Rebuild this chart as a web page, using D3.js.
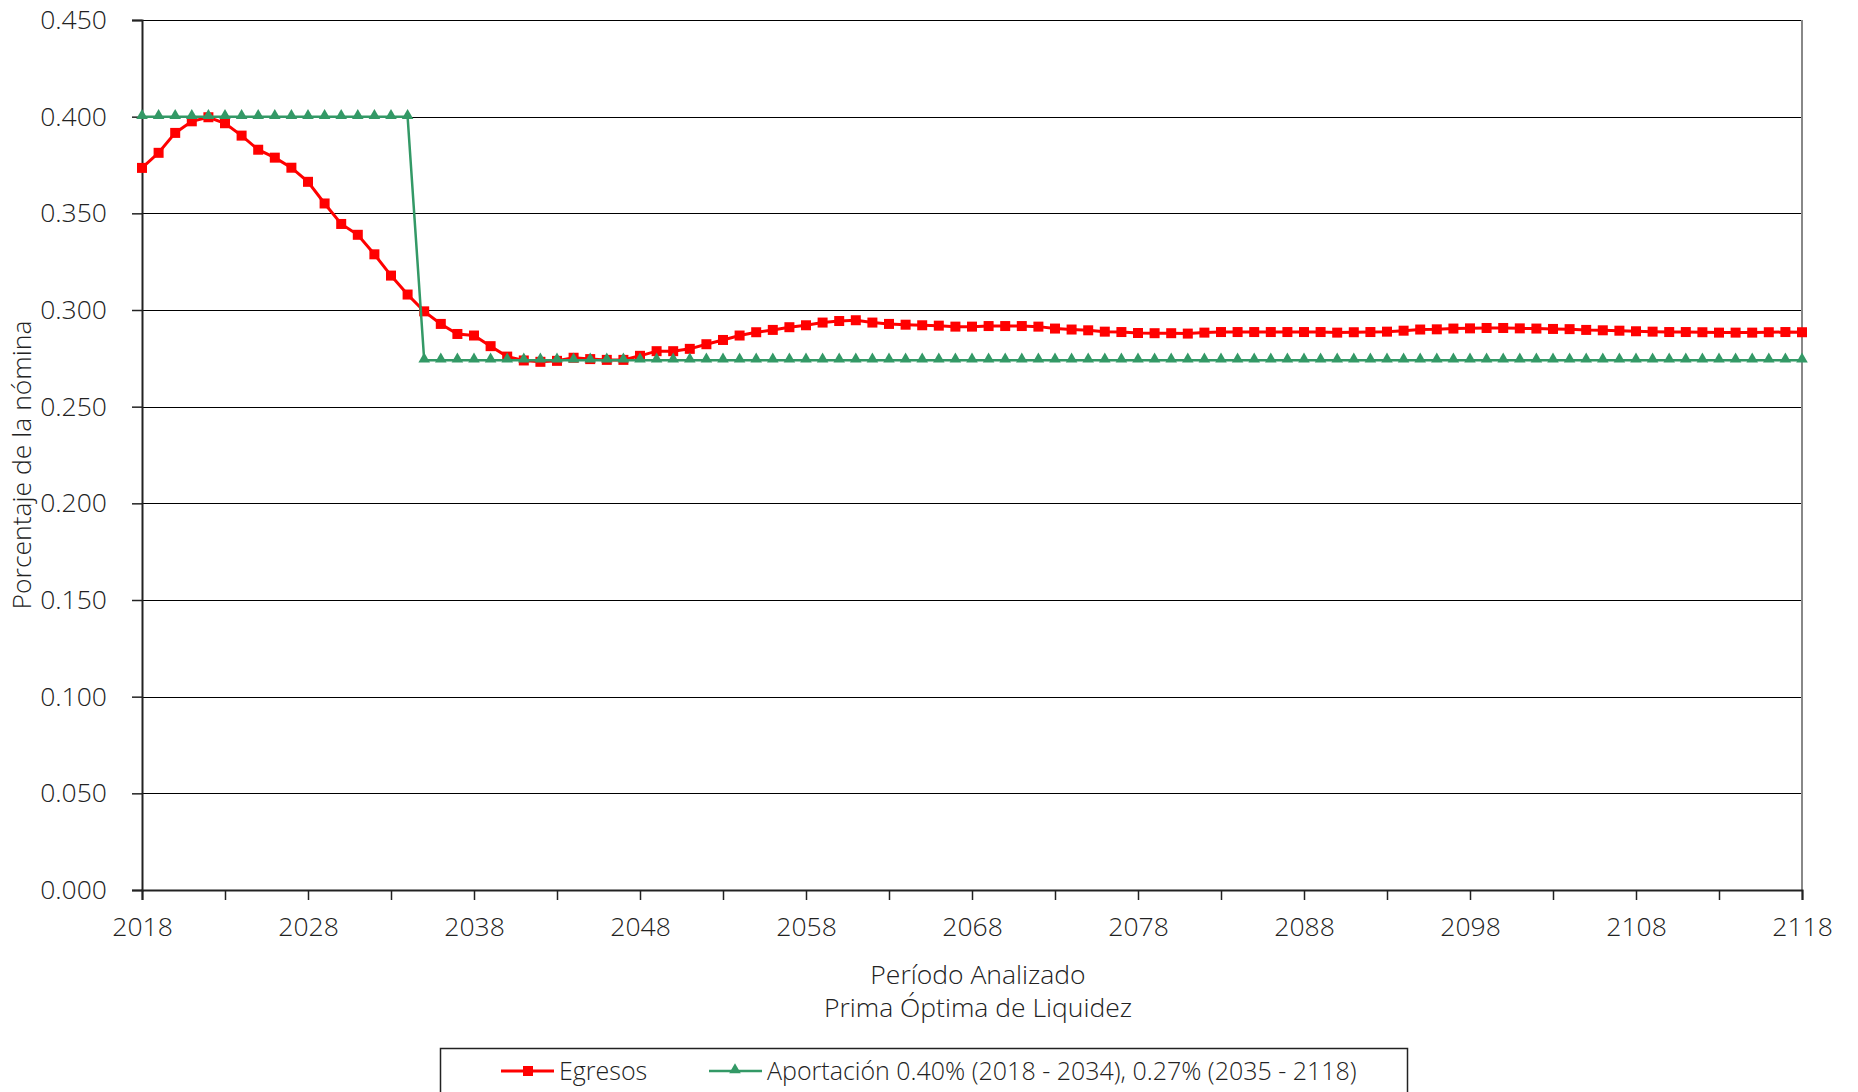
<!DOCTYPE html>
<html>
<head>
<meta charset="utf-8">
<script src="https://cdn.jsdelivr.net/npm/d3@7"></script>
<style>
  body { margin: 0; background: #fff; }
  svg { display: block; font-family: "Open Sans", "Noto Sans", sans-serif; font-weight: 300; }
</style>
</head>
<body>
<svg width="1858" height="1092"></svg>
<script>
const years = d3.range(2018, 2119);

const egresos = [
  0.3735, 0.3813, 0.3916, 0.3976, 0.3997, 0.3966, 0.3902, 0.3829, 0.3788, 0.3736,
  0.3663, 0.3551, 0.3445, 0.3389, 0.3288, 0.3178, 0.3080, 0.2993, 0.2928, 0.2876,
  0.2868, 0.2813, 0.2759, 0.2739, 0.2732, 0.2737, 0.2753, 0.2746, 0.2742, 0.2742,
  0.2763, 0.2787, 0.2787, 0.2799, 0.2823, 0.2845, 0.2868, 0.2885, 0.2897, 0.2911,
  0.2921, 0.2935, 0.2943, 0.2947, 0.2935, 0.2928, 0.2924, 0.2921, 0.2919, 0.2914,
  0.2914, 0.2917, 0.2917, 0.2917, 0.2914, 0.2904, 0.2899, 0.2895, 0.2888, 0.2886,
  0.2881, 0.2880, 0.2880, 0.2878, 0.2883, 0.2886, 0.2886, 0.2886, 0.2886, 0.2886,
  0.2886, 0.2886, 0.2883, 0.2885, 0.2886, 0.2888, 0.2893, 0.2899, 0.2900, 0.2904,
  0.2905, 0.2907, 0.2907, 0.2905, 0.2904, 0.2902, 0.2901, 0.2897, 0.2895, 0.2893,
  0.2890, 0.2888, 0.2886, 0.2886, 0.2885, 0.2883, 0.2883, 0.2883, 0.2885, 0.2886,
  0.2885
];

const aportacion = [
  0.400, 0.400, 0.400, 0.400, 0.400, 0.400, 0.400, 0.400, 0.400, 0.400,
  0.400, 0.400, 0.400, 0.400, 0.400, 0.400, 0.400, 0.274, 0.274, 0.274,
  0.274, 0.274, 0.274, 0.274, 0.274, 0.274, 0.274, 0.274, 0.274, 0.274,
  0.274, 0.274, 0.274, 0.274, 0.274, 0.274, 0.274, 0.274, 0.274, 0.274,
  0.274, 0.274, 0.274, 0.274, 0.274, 0.274, 0.274, 0.274, 0.274, 0.274,
  0.274, 0.274, 0.274, 0.274, 0.274, 0.274, 0.274, 0.274, 0.274, 0.274,
  0.274, 0.274, 0.274, 0.274, 0.274, 0.274, 0.274, 0.274, 0.274, 0.274,
  0.274, 0.274, 0.274, 0.274, 0.274, 0.274, 0.274, 0.274, 0.274, 0.274,
  0.274, 0.274, 0.274, 0.274, 0.274, 0.274, 0.274, 0.274, 0.274, 0.274,
  0.274, 0.274, 0.274, 0.274, 0.274, 0.274, 0.274, 0.274, 0.274, 0.274,
  0.274
];

const yTicks = [0, 0.05, 0.10, 0.15, 0.20, 0.25, 0.30, 0.35, 0.40, 0.45];
const xTicks = d3.range(2018, 2119, 5);
const xLabels = d3.range(2018, 2119, 10);

const seriesNames = ['Egresos', 'Aportación 0.40% (2018 - 2034), 0.27% (2035 - 2118)'];
const xTitle = 'Período Analizado';
const subTitle = 'Prima Óptima de Liquidez';
const yTitle = 'Porcentaje de la nómina';

const svg = d3.select('svg');

const plotLeft = 142;
const plotRight = 1802;
const plotTop = 20;
const plotBottom = 890;

const x = d3.scaleLinear()
  .domain([2018, 2118])
  .range([plotLeft, plotRight]);

const y = d3.scaleLinear()
  .domain([0, 0.45])
  .range([plotBottom, plotTop]);

// gridlines
svg.append('g')
  .selectAll('line')
  .data(yTicks.slice(1))
  .join('line')
    .attr('x1', plotLeft)
    .attr('x2', plotRight)
    .attr('y1', d => Math.round(y(d)) + 0.5)
    .attr('y2', d => Math.round(y(d)) + 0.5)
    .attr('stroke', '#000')
    .attr('stroke-width', 1);

svg.append('line')
    .attr('x1', plotRight)
    .attr('x2', plotRight)
    .attr('y1', plotTop)
    .attr('y2', plotBottom)
    .attr('stroke', '#888')
    .attr('stroke-width', 2);

// axes
const yAxis = svg.append('g')
    .attr('transform', `translate(${plotLeft},0)`)
    .call(d3.axisLeft(y)
      .tickValues(yTicks)
      .tickFormat(d3.format('.3f'))
      .tickSize(10)
      .tickPadding(25));

const xAxis = svg.append('g')
    .attr('transform', `translate(0,${plotBottom})`)
    .call(d3.axisBottom(x)
      .tickValues(xTicks)
      .tickFormat(d => xLabels.includes(d) ? d : '')
      .tickSize(10)
      .tickPadding(17));

[yAxis, xAxis].forEach(a => {
  a.selectAll('text')
      .attr('font-size', 26.5)
      .attr('font-family', '"Open Sans", "Noto Sans", sans-serif')
      .attr('fill', '#222');
  a.selectAll('line').attr('stroke', '#222').attr('stroke-width', 1.5);
  a.select('.domain').attr('stroke', '#222').attr('stroke-width', 2);
});

// lines
const line = d3.line()
  .x((d, i) => x(years[i]))
  .y(d => y(d));

const redG = svg.append('g');

redG.append('path')
    .attr('d', line(egresos))
    .attr('fill', 'none')
    .attr('stroke', '#ff0000')
    .attr('stroke-width', 3);

redG.selectAll('rect')
  .data(egresos)
  .join('rect')
    .attr('x', (d, i) => x(years[i]) - 5)
    .attr('y', d => y(d) - 5)
    .attr('width', 10)
    .attr('height', 10)
    .attr('fill', '#ff0000');

const triangle = d3.symbol().type(d3.symbolTriangle).size(58);

const greenG = svg.append('g');

greenG.append('path')
    .attr('d', line(aportacion))
    .attr('fill', 'none')
    .attr('stroke', '#339966')
    .attr('stroke-width', 2.5);

greenG.selectAll('.tri')
  .data(aportacion)
  .join('path')
    .attr('class', 'tri')
    .attr('d', triangle)
    .attr('transform', (d, i) => `translate(${x(years[i])},${y(d) - 1})`)
    .attr('fill', '#339966');

// titles
svg.append('text')
    .attr('x', (plotLeft + plotRight) / 2 + 6)
    .attr('y', 984)
    .attr('text-anchor', 'middle')
    .attr('font-size', 26.5)
    .attr('fill', '#222')
    .text(xTitle);

svg.append('text')
    .attr('x', (plotLeft + plotRight) / 2 + 6)
    .attr('y', 1017)
    .attr('text-anchor', 'middle')
    .attr('font-size', 26.5)
    .attr('fill', '#222')
    .text(subTitle);

svg.append('text')
    .attr('transform', `translate(31,${(plotTop + plotBottom) / 2 + 10}) rotate(-90)`)
    .attr('text-anchor', 'middle')
    .attr('font-size', 26.5)
    .attr('fill', '#222')
    .text(yTitle);

// legend
svg.append('rect')
    .attr('x', 440.5)
    .attr('y', 1048.5)
    .attr('width', 967)
    .attr('height', 80)
    .attr('fill', 'none')
    .attr('stroke', '#222')
    .attr('stroke-width', 1.5);

const legendG = svg.append('g')
    .attr('transform', 'translate(0,1071)');

legendG.append('line')
    .attr('x1', 501).attr('x2', 554)
    .attr('stroke', '#ff0000')
    .attr('stroke-width', 3);

legendG.append('rect')
    .attr('x', 523).attr('y', -5)
    .attr('width', 10).attr('height', 10)
    .attr('fill', '#ff0000');

legendG.append('text')
    .attr('x', 559)
    .attr('y', 9)
    .attr('font-size', 25)
    .attr('fill', '#222')
    .text(seriesNames[0]);

legendG.append('line')
    .attr('x1', 709).attr('x2', 762)
    .attr('stroke', '#339966')
    .attr('stroke-width', 2.5);

legendG.append('path')
    .attr('d', triangle)
    .attr('transform', 'translate(735,-1)')
    .attr('fill', '#339966');

legendG.append('text')
    .attr('x', 767)
    .attr('y', 9)
    .attr('font-size', 25)
    .attr('fill', '#222')
    .text(seriesNames[1]);
</script>
</body>
</html>
